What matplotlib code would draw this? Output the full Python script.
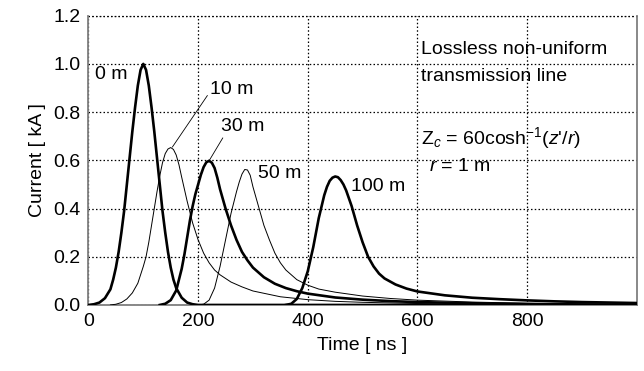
import matplotlib
matplotlib.use("Agg")
import matplotlib.pyplot as plt

plt.rcParams['font.family'] = ['Liberation Sans', 'DejaVu Sans']
plt.rcParams['mathtext.fontset'] = 'custom'
plt.rcParams['mathtext.rm'] = 'Liberation Sans'
plt.rcParams['mathtext.it'] = 'Liberation Sans:italic'

# ---- data ----
t_0m = [0, 10, 20, 30, 40, 45, 50, 55, 60, 65, 70, 75, 80, 85, 90, 95, 100,
        105, 110, 115, 120, 125, 130, 135, 140, 145, 150, 155, 160, 170, 180, 190, 200, 1000]
i_0m = [0, 0.003, 0.01, 0.028, 0.065, 0.105, 0.155, 0.22, 0.30, 0.39, 0.50, 0.61,
        0.72, 0.82, 0.91, 0.975, 1.0, 0.975, 0.91, 0.82, 0.72, 0.61, 0.50, 0.39,
        0.30, 0.22, 0.155, 0.105, 0.07, 0.03, 0.01, 0.003, 0, 0]

t_10m = [40, 50, 60, 70, 80, 90, 100, 105, 110, 115, 120, 125, 130, 135, 140, 145,
         150, 155, 160, 165, 170, 180, 190, 200, 210, 220, 230, 240, 250, 260, 280, 300,
         350, 400, 450, 500, 600, 700, 800, 1000]
i_10m = [0, 0.003, 0.01, 0.025, 0.05, 0.09, 0.16, 0.20, 0.26, 0.33, 0.40, 0.47,
         0.535, 0.59, 0.628, 0.647, 0.653, 0.645, 0.622, 0.582, 0.53, 0.43, 0.34, 0.27,
         0.215, 0.175, 0.145, 0.125, 0.11, 0.095, 0.075, 0.058, 0.034, 0.022,
         0.015, 0.011, 0.006, 0.003, 0.002, 0.001]

t_30m = [130, 140, 150, 160, 170, 175, 180, 185, 190, 195, 200, 205, 210, 215, 220,
         225, 230, 235, 240, 250, 260, 270, 280, 290, 300, 320, 340, 360, 380, 400, 450,
         500, 550, 600, 700, 800, 900, 1000]
i_30m = [0, 0.005, 0.02, 0.06, 0.15, 0.21, 0.28, 0.35, 0.41, 0.46, 0.50, 0.54,
         0.572, 0.592, 0.598, 0.59, 0.568, 0.528, 0.48, 0.40, 0.33, 0.27, 0.22, 0.185,
         0.155, 0.115, 0.088, 0.07, 0.057, 0.047, 0.031, 0.022, 0.016, 0.012,
         0.007, 0.004, 0.002, 0.001]

t_50m = [200, 210, 220, 230, 240, 250, 260, 270, 275, 280, 285, 290, 295, 300, 305,
         310, 320, 330, 340, 350, 360, 380, 400, 420, 450, 500, 550, 600, 700, 800,
         900, 1000]
i_50m = [0, 0.003, 0.02, 0.07, 0.16, 0.27, 0.38, 0.47, 0.51, 0.543, 0.562, 0.56,
         0.538, 0.49, 0.45, 0.41, 0.33, 0.27, 0.215, 0.175, 0.145, 0.105, 0.082,
         0.066, 0.053, 0.037, 0.027, 0.02, 0.012, 0.007, 0.004, 0.002]

t_100m = [360, 370, 380, 390, 400, 410, 420, 430, 435, 440, 445, 450, 455, 460, 465,
          470, 480, 490, 500, 510, 520, 530, 540, 560, 580, 600, 650, 700, 750, 800,
          850, 900, 950, 1000]
i_100m = [0, 0.005, 0.025, 0.07, 0.14, 0.24, 0.36, 0.455, 0.49, 0.515, 0.528,
          0.533, 0.53, 0.518, 0.5, 0.475, 0.41, 0.33, 0.26, 0.20, 0.16, 0.13, 0.11,
          0.085, 0.068, 0.056, 0.04, 0.03, 0.024, 0.019, 0.015, 0.012, 0.01, 0.008]

x_ticks = [0, 200, 400, 600, 800]
y_ticks = [0.0, 0.2, 0.4, 0.6, 0.8, 1.0, 1.2]

# ---- figure ----
fig = plt.figure(figsize=(6.44, 3.71), dpi=100)
ax = fig.add_axes([0.1374, 0.178, 0.8513, 0.7797])

thick = 1.9
thin = 0.7
ax.plot(t_0m, i_0m, color='black', lw=thick, zorder=3)
ax.plot(t_10m, i_10m, color='black', lw=thin, zorder=3)
ax.plot(t_30m, i_30m, color='black', lw=thick, zorder=3)
ax.plot(t_50m, i_50m, color='black', lw=thin, zorder=3)
ax.plot(t_100m, i_100m, color='black', lw=thick, zorder=3)

fs = 14

ax.set_xlim(0, 1000)
ax.set_ylim(0, 1.2)
ax.set_xticks(x_ticks)
ax.set_xticklabels([str(v) for v in x_ticks])
ax.set_yticks(y_ticks)
ax.set_yticklabels([f"{v:.1f}" for v in y_ticks])
ax.tick_params(length=0, labelsize=fs, pad=6)
ax.grid(True, linestyle=(0, (1.2, 1.8)), color='black', lw=0.9)
ax.set_axisbelow(True)

for s in ['left', 'right', 'bottom']:
    ax.spines[s].set_color('#7f7f7f')
    ax.spines[s].set_linewidth(1.3)
ax.spines['top'].set_visible(False)
ax.axhline(1.2, linestyle=(0, (1.2, 1.8)), color='black', lw=0.9, clip_on=False)

ax.set_xlabel('Time [ ns ]', fontsize=fs, labelpad=5)
ax.set_ylabel('Current [ kA ]', fontsize=fs, labelpad=5)

ax.text(12, 0.955, '0 m', fontsize=fs, ha='left', va='center')
ax.annotate('10 m', xy=(153, 0.655), xytext=(222, 0.893), fontsize=fs,
            ha='left', va='center',
            arrowprops=dict(arrowstyle='-', lw=0.6, color='black',
                            shrinkA=0, shrinkB=0, relpos=(0, 0.4)))
ax.annotate('30 m', xy=(221, 0.602), xytext=(242, 0.74), fontsize=fs,
            ha='left', va='center',
            arrowprops=dict(arrowstyle='-', lw=0.6, color='black',
                            shrinkA=0, shrinkB=0, relpos=(0.1, 0.1)))
ax.text(310, 0.546, '50 m', fontsize=fs, ha='left', va='center')
ax.text(479, 0.492, '100 m', fontsize=fs, ha='left', va='center')

ax.text(606, 1.058, 'Lossless non-uniform', fontsize=fs, ha='left', va='center')
ax.text(606, 0.947, 'transmission line', fontsize=fs, ha='left', va='center')
ax.text(606, 0.692,
        r"Z$_{\mathit{c}}$ = 60cosh$^{\mathregular{-1}}$($\mathit{z}$'/$\mathit{r}$)",
        fontsize=fs, ha='left', va='center')
ax.text(622, 0.574, r'$\mathit{r}$ = 1 m', fontsize=fs, ha='left', va='center')

fig.savefig('out.png', dpi=100)
